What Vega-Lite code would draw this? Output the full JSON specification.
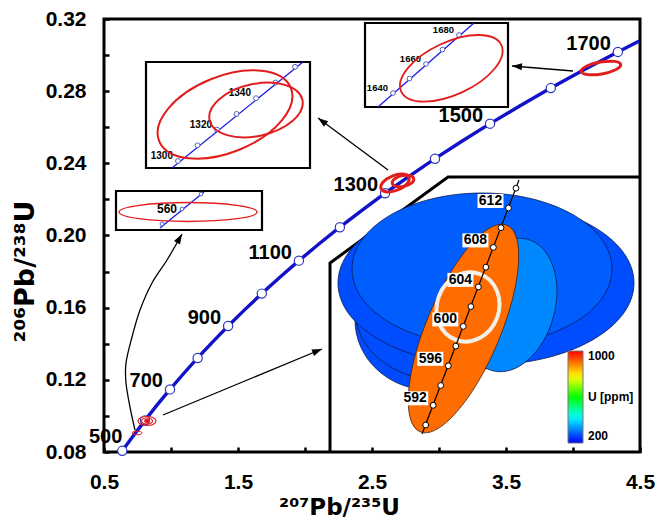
{
  "$schema": "https://vega.github.io/schema/vega-lite/v6.json",
  "width": 536,
  "height": 433,
  "autosize": {"type": "none"},
  "padding": {"left": 104, "top": 19, "right": 15, "bottom": 68},
  "background": "white",
  "config": {
    "view": {"stroke": "black", "strokeWidth": 3},
    "font": "Liberation Sans",
    "axis": {"grid": false, "domain": false}
  },
  "datasets": {
    "concordia": [
      {"t": 500, "x": 0.6363, "y": 0.08065}, {"t": 550, "x": 0.7189, "y": 0.08906},
      {"t": 600, "x": 0.8056, "y": 0.09754}, {"t": 650, "x": 0.8968, "y": 0.10609},
      {"t": 700, "x": 0.9925, "y": 0.1147}, {"t": 750, "x": 1.0931, "y": 0.12338},
      {"t": 800, "x": 1.1987, "y": 0.13213}, {"t": 850, "x": 1.3097, "y": 0.14094},
      {"t": 900, "x": 1.4263, "y": 0.14983}, {"t": 950, "x": 1.5488, "y": 0.15878},
      {"t": 1000, "x": 1.6774, "y": 0.1678}, {"t": 1050, "x": 1.8126, "y": 0.1769},
      {"t": 1100, "x": 1.9545, "y": 0.18606}, {"t": 1150, "x": 2.1036, "y": 0.19529},
      {"t": 1200, "x": 2.2603, "y": 0.2046}, {"t": 1250, "x": 2.4249, "y": 0.21398},
      {"t": 1300, "x": 2.5977, "y": 0.22343}, {"t": 1350, "x": 2.7793, "y": 0.23296},
      {"t": 1400, "x": 2.9701, "y": 0.24256}, {"t": 1450, "x": 3.1705, "y": 0.25223},
      {"t": 1500, "x": 3.381, "y": 0.26198}, {"t": 1550, "x": 3.6021, "y": 0.27181},
      {"t": 1600, "x": 3.8344, "y": 0.28171}, {"t": 1650, "x": 4.0784, "y": 0.29169},
      {"t": 1700, "x": 4.3348, "y": 0.30175}, {"t": 1730, "x": 4.4947, "y": 0.30782}
    ],
    "zoom600": [
      {"t": 590, "x": 2.9007, "y": 0.09497}, {"t": 592, "x": 2.9567, "y": 0.10588},
      {"t": 594, "x": 3.0131, "y": 0.11686}, {"t": 596, "x": 3.0694, "y": 0.12778},
      {"t": 598, "x": 3.1254, "y": 0.1387}, {"t": 600, "x": 3.1813, "y": 0.14962},
      {"t": 602, "x": 3.2381, "y": 0.16059}, {"t": 604, "x": 3.294, "y": 0.17151},
      {"t": 606, "x": 3.35, "y": 0.18243}, {"t": 608, "x": 3.406, "y": 0.1934},
      {"t": 610, "x": 3.4627, "y": 0.20432}, {"t": 612, "x": 3.5187, "y": 0.21524},
      {"t": 614, "x": 3.5746, "y": 0.22622}
    ],
    "zoomLine600": [{"x": 2.8731, "y": 0.08998}, {"x": 3.597, "y": 0.23076}],
    "zoom1320": [
      {"t": 1300, "x": 1.0522, "y": 0.24129}, {"t": 1310, "x": 1.1978, "y": 0.25},
      {"t": 1320, "x": 1.3433, "y": 0.2587}, {"t": 1330, "x": 1.4888, "y": 0.2674},
      {"t": 1340, "x": 1.6343, "y": 0.2761}, {"t": 1350, "x": 1.7799, "y": 0.2848},
      {"t": 1360, "x": 1.9254, "y": 0.2935}
    ],
    "zoom1680": [
      {"t": 1640, "x": 2.6567, "y": 0.27898}, {"t": 1650, "x": 2.7799, "y": 0.28702},
      {"t": 1660, "x": 2.903, "y": 0.29506}, {"t": 1670, "x": 3.0261, "y": 0.30309},
      {"t": 1680, "x": 3.1493, "y": 0.31113}
    ],
    "zoom560": [
      {"t": 550, "x": 0.9328, "y": 0.20637}, {"t": 560, "x": 1.0821, "y": 0.21469},
      {"t": 570, "x": 1.2239, "y": 0.223}
    ],
    "zoomLines": [
      {"id": "a", "x": 1.0075, "y": 0.23741}, {"id": "a", "x": 1.9851, "y": 0.29617},
      {"id": "b", "x": 2.5448, "y": 0.27122}, {"id": "b", "x": 3.2612, "y": 0.31778},
      {"id": "c", "x": 0.9179, "y": 0.20416}, {"id": "c", "x": 1.2463, "y": 0.22411}
    ],
    "boxes": [
      {"x": 0.5896, "x2": 1.6791, "y": 0.20305, "y2": 0.22467},
      {"x": 0.8134, "x2": 2.0373, "y": 0.23741, "y2": 0.29617},
      {"x": 2.4478, "x2": 3.5149, "y": 0.27122, "y2": 0.31778}
    ],
    "frame": [
      {"o": 1, "x": 2.1866, "y": 0.08}, {"o": 2, "x": 2.1866, "y": 0.18476},
      {"o": 3, "x": 3.0672, "y": 0.23242}, {"o": 4, "x": 4.5, "y": 0.23242}
    ],
    "arrows": [
      {"id": 1, "o": 1, "x": 0.7313, "y": 0.09219}, {"id": 1, "o": 2, "x": 0.694, "y": 0.10494},
      {"id": 1, "o": 3, "x": 0.6642, "y": 0.11824}, {"id": 1, "o": 4, "x": 0.6642, "y": 0.12933},
      {"id": 1, "o": 5, "x": 0.709, "y": 0.14374}, {"id": 1, "o": 6, "x": 0.7687, "y": 0.15871},
      {"id": 1, "o": 7, "x": 0.8582, "y": 0.17367}, {"id": 1, "o": 8, "x": 0.9701, "y": 0.18642},
      {"id": 1, "o": 9, "x": 1.0821, "y": 0.20083},
      {"id": 2, "o": 1, "x": 0.9403, "y": 0.10051}, {"id": 2, "o": 2, "x": 2.1269, "y": 0.13709},
      {"id": 3, "o": 1, "x": 2.6194, "y": 0.2363}, {"id": 3, "o": 2, "x": 2.097, "y": 0.26513},
      {"id": 4, "o": 1, "x": 4.0, "y": 0.29118}, {"id": 4, "o": 2, "x": 3.5448, "y": 0.29395}
    ]
  },
  "encoding": {
    "x": {
      "field": "x", "type": "quantitative",
      "scale": {"domain": [0.5, 4.5], "nice": false, "zero": false},
      "axis": {
        "values": [0.5, 1, 1.5, 2, 2.5, 3, 3.5, 4, 4.5],
        "labelExpr": "round(datum.value * 2) % 2 == 1 ? format(datum.value, '.1f') : ''",
        "labelFlush": false, "labelOverlap": false,
        "tickSize": -5, "tickWidth": 2.5, "tickColor": "black",
        "labelPadding": 24, "labelFontSize": 21, "labelFontWeight": "bold", "labelColor": "black",
        "labelFont": "Liberation Sans",
        "title": "²⁰⁷Pb/²³⁵U", "titleFont": "DejaVu Sans", "titleFontSize": 23, "titleFontWeight": "bold",
        "titleColor": "black", "titleX": 235, "titleY": 62, "titleAlign": "center", "titleBaseline": "alphabetic"
      }
    },
    "y": {
      "field": "y", "type": "quantitative",
      "scale": {"domain": [0.08, 0.32], "nice": false, "zero": false},
      "axis": {
        "values": [0.08, 0.1, 0.12, 0.14, 0.16, 0.18, 0.2, 0.22, 0.24, 0.26, 0.28, 0.3, 0.32],
        "labelExpr": "round(datum.value * 100) % 4 == 0 ? format(datum.value, '.2f') : ''",
        "labelFlush": false, "labelOverlap": false,
        "tickSize": -5, "tickWidth": 2.5, "tickColor": "black",
        "labelPadding": 23, "labelFontSize": 21, "labelFontWeight": "bold", "labelColor": "black",
        "labelFont": "Liberation Sans",
        "title": "²⁰⁶Pb/²³⁸U", "titleFont": "DejaVu Sans", "titleFontSize": 27, "titleFontWeight": "bold",
        "titleColor": "black", "titleX": -71, "titleY": 252, "titleAngle": 270, "titleAlign": "center", "titleBaseline": "alphabetic"
      }
    }
  },
  "layer": [
    {
      "data": {"name": "frame"},
      "mark": {"type": "line", "color": "black", "strokeWidth": 3},
      "encoding": {"order": {"field": "o"}}
    },
    {
      "data": {"values": [{"x": 2.9328, "y": 0.15316, "U": 266}]},
      "mark": {"type": "point", "shape": "M-75,0A75,70,0,1,1,75,0A75,70,0,1,1,-75,0Z", "size": 4, "filled": true, "opacity": 1, "stroke": "#0a1a50", "strokeWidth": 0.8},
      "encoding": {"color": {"field": "U", "type": "quantitative", "scale": {"domain": [200, 424, 600, 776, 1000], "range": ["#0000ff", "#00ffff", "#00ff00", "#ffff00", "#ff0000"], "interpolate": "rgb"}, "legend": {"orient": "none", "legendX": 464, "legendY": 332, "direction": "vertical", "padding": 0, "title": null, "gradientLength": 92, "gradientThickness": 15, "gradientStrokeColor": "#777777", "gradientStrokeWidth": 1, "values": [200, 600, 1000], "labelExpr": "datum.value == 600 ? 'U [ppm]' : format(datum.value, 'd')", "labelOverlap": false, "labelBaseline": "middle", "labelOffset": 5, "labelFont": "Liberation Sans", "labelFontSize": 12, "labelFontWeight": "bold", "labelColor": "black"}}}
    },
    {
      "data": {"values": [{"x": 3.0075, "y": 0.15871, "U": 268}]},
      "mark": {"type": "point", "shape": "M-85,0A85,70,0,1,1,85,0A85,70,0,1,1,-85,0Z", "size": 4, "filled": true, "opacity": 1, "stroke": "#0a1a50", "strokeWidth": 0.8},
      "encoding": {"color": {"field": "U", "type": "quantitative"}}
    },
    {
      "data": {"values": [{"x": 3.3507, "y": 0.17367, "U": 268}]},
      "mark": {"type": "point", "shape": "M-148,0A148,82,0,1,1,148,0A148,82,0,1,1,-148,0Z", "size": 4, "filled": true, "opacity": 1, "stroke": "#0a1a50", "strokeWidth": 0.8},
      "encoding": {"color": {"field": "U", "type": "quantitative"}}
    },
    {
      "data": {"values": [{"x": 3.3209, "y": 0.18143, "U": 283}]},
      "mark": {"type": "point", "shape": "M-130,0A130,76,0,1,1,130,0A130,76,0,1,1,-130,0Z", "size": 4, "filled": true, "opacity": 1, "stroke": "#0a1a50", "strokeWidth": 0.8},
      "encoding": {"color": {"field": "U", "type": "quantitative"}}
    },
    {
      "data": {"values": [{"x": 3.5299, "y": 0.16148, "U": 320}]},
      "mark": {"type": "point", "shape": "M-17.6,65.7A68,45,-75,1,1,17.6,-65.7A68,45,-75,1,1,-17.6,65.7Z", "size": 4, "filled": true, "opacity": 1, "stroke": "#0a1a50", "strokeWidth": 0.8},
      "encoding": {"color": {"field": "U", "type": "quantitative"}}
    },
    {
      "data": {"values": [{"x": 3.1828, "y": 0.14845, "U": 905}]},
      "mark": {"type": "point", "shape": "M-43.4,103.3A112,37,-67.2,1,1,43.4,-103.3A112,37,-67.2,1,1,-43.4,103.3Z", "size": 4, "filled": true, "opacity": 1, "stroke": "#402010", "strokeWidth": 0.8},
      "encoding": {"color": {"field": "U", "type": "quantitative"}}
    },
    {
      "data": {"values": [{"x": 3.2164, "y": 0.16037}]},
      "mark": {"type": "point", "shape": "M-12,32.9A35,31,-70,1,1,12,-32.9A35,31,-70,1,1,-12,32.9Z", "size": 4, "filled": false, "opacity": 1, "stroke": "#f2efe6", "strokeWidth": 4}
    },
    {
      "data": {"name": "zoomLine600"},
      "mark": {"type": "line", "color": "black", "strokeWidth": 1.2}
    },
    {
      "data": {"name": "zoom600"},
      "mark": {"type": "point", "shape": "circle", "size": 34, "filled": true, "fill": "white", "stroke": "black", "strokeWidth": 1, "opacity": 1}
    },
    {
      "data": {"name": "zoom600"},
      "transform": [{"filter": "(datum.t - 592) % 4 == 0"}],
      "mark": {"type": "point", "shape": "M-31,-14H-5V0H-31Z", "size": 4, "filled": true, "fill": "white", "strokeWidth": 0, "opacity": 1}
    },
    {
      "data": {"name": "zoom600"},
      "transform": [{"filter": "(datum.t - 592) % 4 == 0"}],
      "mark": {"type": "text", "font": "Liberation Sans", "fontWeight": "bold", "fontSize": 14, "align": "center", "baseline": "middle", "dx": -18, "dy": -7, "color": "black"},
      "encoding": {"text": {"field": "t", "type": "nominal"}}
    },
    {
      "data": {"name": "boxes"},
      "mark": {"type": "rect", "fill": "white", "stroke": "black", "strokeWidth": 2.2},
      "encoding": {"x2": {"field": "x2"}, "y2": {"field": "y2"}}
    },
    {
      "data": {"name": "zoomLines"},
      "mark": {"type": "line", "color": "#1a1ae6", "strokeWidth": 1.3},
      "encoding": {"detail": {"field": "id"}}
    },
    {
      "data": {"name": "zoom1320"},
      "mark": {"type": "point", "shape": "circle", "size": 24, "filled": true, "fill": "white", "stroke": "#5560c0", "strokeWidth": 1, "opacity": 1}
    },
    {
      "data": {"name": "zoom1680"},
      "mark": {"type": "point", "shape": "circle", "size": 22, "filled": true, "fill": "white", "stroke": "#5560c0", "strokeWidth": 1, "opacity": 1}
    },
    {
      "data": {"name": "zoom560"},
      "mark": {"type": "point", "shape": "circle", "size": 14, "filled": true, "fill": "white", "stroke": "#5560c0", "strokeWidth": 1, "opacity": 1}
    },
    {
      "data": {"name": "zoom1320"},
      "transform": [{"filter": "datum.t <= 1340 && datum.t % 20 == 0"}],
      "mark": {"type": "text", "font": "Liberation Sans", "fontWeight": "bold", "fontSize": 10, "align": "right", "baseline": "middle", "dx": -5, "dy": -5, "color": "black"},
      "encoding": {"text": {"field": "t", "type": "nominal"}}
    },
    {
      "data": {"name": "zoom1680"},
      "transform": [{"filter": "datum.t % 20 == 0"}],
      "mark": {"type": "text", "font": "Liberation Sans", "fontWeight": "bold", "fontSize": 9.5, "align": "right", "baseline": "middle", "dx": -5, "dy": -5, "color": "black"},
      "encoding": {"text": {"field": "t", "type": "nominal"}}
    },
    {
      "data": {"name": "zoom560"},
      "transform": [{"filter": "datum.t == 560"}],
      "mark": {"type": "text", "font": "Liberation Sans", "fontWeight": "bold", "fontSize": 12, "align": "right", "baseline": "middle", "dx": -5, "dy": 0, "color": "black"},
      "encoding": {"text": {"field": "t", "type": "nominal"}}
    },
    {
      "data": {"values": [{"x": 1.403, "y": 0.26707}]},
      "mark": {"type": "point", "shape": "M-65.83,26.6A71,38,-22,1,1,65.83,-26.6A71,38,-22,1,1,-65.83,26.6Z", "size": 4, "filled": false, "opacity": 1, "stroke": "#e21d1d", "strokeWidth": 2}
    },
    {
      "data": {"values": [{"x": 1.6343, "y": 0.26956}]},
      "mark": {"type": "point", "shape": "M-46.41,10.12A47.5,26,-12.3,1,1,46.41,-10.12A47.5,26,-12.3,1,1,-46.41,10.12Z", "size": 4, "filled": false, "opacity": 1, "stroke": "#e21d1d", "strokeWidth": 2}
    },
    {
      "data": {"values": [{"x": 3.0918, "y": 0.29267}]},
      "mark": {"type": "point", "shape": "M-50.07,23.24A55.2,26.3,-24.9,1,1,50.07,-23.24A55.2,26.3,-24.9,1,1,-50.07,23.24Z", "size": 4, "filled": false, "opacity": 1, "stroke": "#e21d1d", "strokeWidth": 1.8}
    },
    {
      "data": {"values": [{"x": 1.1269, "y": 0.21303}]},
      "mark": {"type": "point", "shape": "M-69,0A69,9.5,0,1,1,69,0A69,9.5,0,1,1,-69,0Z", "size": 4, "filled": false, "opacity": 1, "stroke": "#e21d1d", "strokeWidth": 1.3}
    },
    {
      "data": {"name": "concordia"},
      "mark": {"type": "line", "color": "#1212c8", "strokeWidth": 3.4}
    },
    {
      "data": {"name": "concordia"},
      "transform": [{"filter": "datum.t % 100 == 0"}],
      "mark": {"type": "point", "shape": "circle", "size": 85, "filled": true, "fill": "white", "stroke": "#2a36c0", "strokeWidth": 1.2, "opacity": 1}
    },
    {
      "data": {"name": "concordia"},
      "transform": [{"filter": "datum.t % 200 == 100 && datum.t > 500"}],
      "mark": {"type": "text", "font": "Liberation Sans", "fontWeight": "bold", "fontSize": 20, "align": "right", "baseline": "middle", "dx": -7, "dy": -8, "color": "black"},
      "encoding": {"text": {"field": "t", "type": "nominal"}}
    },
    {
      "data": {"name": "concordia"},
      "transform": [{"filter": "datum.t == 500"}],
      "mark": {"type": "text", "font": "Liberation Sans", "fontWeight": "bold", "fontSize": 20, "align": "right", "baseline": "middle", "dx": 0, "dy": -14, "color": "black"},
      "encoding": {"text": {"field": "t", "type": "nominal"}}
    },
    {
      "data": {"name": "arrows"},
      "mark": {"type": "line", "color": "black", "strokeWidth": 1.3, "interpolate": "cardinal"},
      "encoding": {"detail": {"field": "id"}, "order": {"field": "o"}}
    },
    {
      "data": {"values": [{"x": 1.0821, "y": 0.20083}]},
      "mark": {"type": "point", "shape": "M0,0L3.5,10L-3.5,10Z", "size": 4, "angle": 30, "filled": true, "fill": "black", "strokeWidth": 0, "opacity": 1}
    },
    {
      "data": {"values": [{"x": 2.1269, "y": 0.13709}]},
      "mark": {"type": "point", "shape": "M0,0L3.5,10L-3.5,10Z", "size": 4, "angle": 67.5, "filled": true, "fill": "black", "strokeWidth": 0, "opacity": 1}
    },
    {
      "data": {"values": [{"x": 2.097, "y": 0.26513}]},
      "mark": {"type": "point", "shape": "M0,0L3.5,10L-3.5,10Z", "size": 4, "angle": -53.4, "filled": true, "fill": "black", "strokeWidth": 0, "opacity": 1}
    },
    {
      "data": {"values": [{"x": 3.5448, "y": 0.29395}]},
      "mark": {"type": "point", "shape": "M0,0L3.5,10L-3.5,10Z", "size": 4, "angle": -85.3, "filled": true, "fill": "black", "strokeWidth": 0, "opacity": 1}
    },
    {
      "data": {"values": [{"x": 2.6716, "y": 0.2291}]},
      "mark": {"type": "point", "shape": "M-13.91,5.62A15,7.5,-22,1,1,13.91,-5.62A15,7.5,-22,1,1,-13.91,5.62Z", "size": 4, "filled": false, "opacity": 1, "stroke": "#e21d1d", "strokeWidth": 3}
    },
    {
      "data": {"values": [{"x": 2.7313, "y": 0.23021}]},
      "mark": {"type": "point", "shape": "M-10.76,2.29A11,5.5,-12,1,1,10.76,-2.29A11,5.5,-12,1,1,-10.76,2.29Z", "size": 4, "filled": false, "opacity": 1, "stroke": "#e21d1d", "strokeWidth": 3}
    },
    {
      "data": {"values": [{"x": 4.209, "y": 0.29284}]},
      "mark": {"type": "point", "shape": "M-19.7,3.47A20,6,-10,1,1,19.7,-3.47A20,6,-10,1,1,-19.7,3.47Z", "size": 4, "filled": false, "opacity": 1, "stroke": "#e21d1d", "strokeWidth": 3}
    },
    {
      "data": {"values": [{"x": 0.7463, "y": 0.09053}]},
      "mark": {"type": "point", "shape": "M-5,0A5,1.8,0,1,1,5,0A5,1.8,0,1,1,-5,0Z", "size": 4, "filled": false, "opacity": 1, "stroke": "#e21d1d", "strokeWidth": 1}
    },
    {
      "data": {"values": [{"x": 0.8209, "y": 0.09718}]},
      "mark": {"type": "point", "shape": "M-9,0A9,4.5,0,1,1,9,0A9,4.5,0,1,1,-9,0Z", "size": 4, "filled": false, "opacity": 1, "stroke": "#e21d1d", "strokeWidth": 1.2}
    },
    {
      "data": {"values": [{"x": 0.8209, "y": 0.09718}]},
      "mark": {"type": "point", "shape": "M-5.5,0A5.5,3,0,1,1,5.5,0A5.5,3,0,1,1,-5.5,0Z", "size": 4, "filled": false, "opacity": 1, "stroke": "#e21d1d", "strokeWidth": 1.2}
    },
    {
      "data": {"values": [{"x": 0.8209, "y": 0.09718}]},
      "mark": {"type": "point", "shape": "M-3,0A3,2.2,0,1,1,3,0A3,2.2,0,1,1,-3,0Z", "size": 4, "filled": true, "fill": "#e21d1d", "strokeWidth": 0, "opacity": 1}
    }
  ]
}
